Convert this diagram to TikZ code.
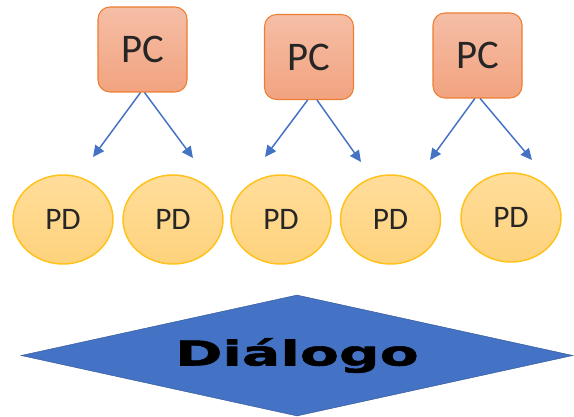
\documentclass[tikz,border=0pt]{standalone}
\usepackage{fontspec}
\usepackage{xcolor}
\usepackage{tikz}
\usetikzlibrary{positioning,arrows.meta,shapes.geometric,calc}
\newfontfamily\pcfont{Carlito}
\newfontfamily\dlgfont{DejaVu Sans Bold}[FakeStretch=1.66,FakeBold=1.6]
\definecolor{pcedge}{HTML}{ED7D31}
\definecolor{pctop}{HTML}{F5BEA6}
\definecolor{pcbot}{HTML}{F2A37F}
\definecolor{pdedge}{HTML}{FFC21A}
\definecolor{pdtop}{HTML}{FFDD9A}
\definecolor{pdbot}{HTML}{FED27C}
\definecolor{arrblue}{HTML}{4472C4}
\definecolor{dlgedge}{HTML}{2F528F}
\tikzset{
  pcbox/.style  = {rectangle, rounded corners=9pt, draw=pcedge, line width=0.8pt,
                   top color=pctop, bottom color=pcbot, minimum width=66.75pt,
                   minimum height=63.75pt, inner sep=0pt,
                   font=\pcfont\fontsize{30.5}{36}\selectfont, text=black!85},
  pdnode/.style = {ellipse, draw=pdedge, line width=1.1pt,
                   top color=pdtop, bottom color=pdbot, minimum width=75pt,
                   minimum height=66.75pt, inner sep=0pt,
                   font=\pcfont\fontsize{23.5}{28}\selectfont, text=black!85},
  dlg/.style    = {diamond, aspect=4.56, draw=dlgedge, line width=0.3pt, fill=arrblue,
                   minimum width=414pt, minimum height=90.75pt, inner sep=0pt,
                   font=\dlgfont\fontsize{25.7}{30}\selectfont, text=black},
  arr/.style    = {-{Triangle[length=8.5pt,width=8pt]}, line width=1.1pt, arrblue},
}

\begin{document}
\begin{tikzpicture}[x=0.75pt,y=-0.75pt]
  \useasboundingbox (0,0) rectangle (574,417);

  % controllers
  \node[pcbox] (pc1) at (142.5,49.5) {PC};
  \node[pcbox] (pc2) at (309,57)     {PC};
  \node[pcbox] (pc3) at (477.5,55.5) {PC};

  % devices
  \node[pdnode] (pd1) at (63,219.5)    {PD};
  \node[pdnode] (pd2) at (173,219.5)   {PD};
  \node[pdnode] (pd3) at (281,219.5)   {PD};
  \node[pdnode] (pd4) at (390.5,219.5) {PD};
  \node[pdnode] (pd5) at (511,217.5)   {PD};

  \node[dlg] (dialogo) at (297,355.5) {Diálogo};

  % arrow ends (they stop above the devices)
  \coordinate (t1l) at (93,157);
  \coordinate (t1r) at (193,158);
  \coordinate (t2l) at (265,157);
  \coordinate (t2r) at (361,162);
  \coordinate (t3l) at (430,160);
  \coordinate (t3r) at (532,160);

  \draw[arr] ([xshift=-1.5pt]pc1.south) -- (t1l);
  \draw[arr] ([xshift=1.5pt]pc1.south) -- (t1r);
  \draw[arr] ([xshift=-1pt]pc2.south) -- (t2l);
  \draw[arr] ([xshift=6pt]pc2.south) -- (t2r);
  \draw[arr] ([xshift=-2pt]pc3.south) -- (t3l);
  \draw[arr] ([xshift=2pt]pc3.south) -- (t3r);
\end{tikzpicture}
\end{document}
